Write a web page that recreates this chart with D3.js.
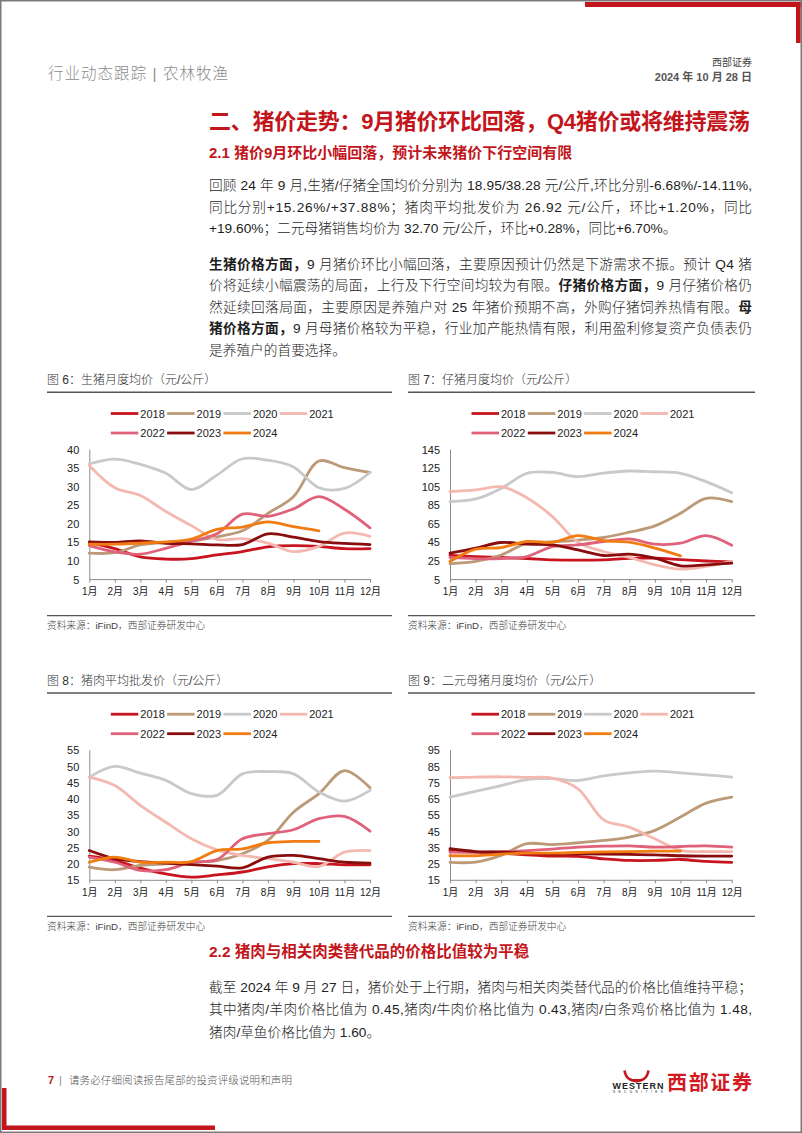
<!DOCTYPE html>
<html><head><meta charset="utf-8">
<script src="https://cdn.jsdelivr.net/npm/d3@7"></script>
<style>body{margin:0;background:#fff}svg{display:block}</style>
</head><body>
<svg id="page" width="802" height="1133"></svg>
<script>
// ---------- data ----------
const months = ["1月","2月","3月","4月","5月","6月","7月","8月","9月","10月","11月","12月"];
const years = ["2018","2019","2020","2021","2022","2023","2024"];
const yearColors = ["#c8141e","#bc9a78","#c9c9c9","#f3b8b0","#e0627a","#8a0d0d","#f07c12"];

const hogTicks = [5,10,15,20,25,30,35,40];
const pigletTicks = [5,25,45,65,85,105,125,145];
const porkTicks = [15,20,25,30,35,40,45,50,55];
const sowTicks = [15,25,35,45,55,65,75,85,95];

// 图6 生猪月度均价
const hogPrice = [
  [14.8,13.2,11.0,10.4,10.5,11.5,12.4,13.7,14.0,13.8,13.2,13.2],
  [12.0,12.1,14.2,14.9,15.3,16.4,18.0,22.7,27.2,36.8,35.0,33.7],
  [36.0,37.3,35.9,33.5,29.1,33.0,37.4,37.0,35.2,29.6,29.4,33.7],
  [35.6,29.6,27.5,23.2,19.4,15.7,15.9,14.7,12.4,13.8,17.4,16.5],
  [14.0,12.3,11.7,13.3,15.2,17.2,22.5,21.9,23.9,27.2,23.8,18.8],
  [15.0,14.9,15.3,14.6,14.5,14.2,14.3,17.2,16.3,15.1,14.6,14.3],
  [14.4,14.4,14.7,15.0,15.8,18.4,19.0,20.4,19.1,18.0]
];
// 图7 仔猪月度均价
const pigletPrice = [
  [30.5,29.3,28.3,27.2,25.8,25.5,25.8,27.3,27.5,26.0,24.5,23.5],
  [21.5,24.0,31.0,43.5,45.0,47.0,49.8,55.5,62.3,75.9,92.0,88.4],
  [88.4,91.3,102.7,118.9,119.9,115.3,119.2,121.4,120.6,118.9,110.0,98.0],
  [99.2,101.0,104.5,92.7,72.3,44.7,34.7,28.3,20.4,15.7,18.6,24.0],
  [28.3,27.0,27.2,29.3,40.0,41.9,45.5,48.3,42.6,43.7,51.9,41.5],
  [32.9,38.3,44.4,42.6,41.9,36.5,30.4,31.9,27.6,19.3,20.4,22.2],
  [24.0,37.2,39.0,45.5,44.7,51.9,46.5,44.7,38.3,30.0]
];
// 图8 猪肉平均批发价
const porkPrice = [
  [22.3,21.0,18.6,16.8,15.8,16.5,17.4,19.0,20.0,20.0,19.6,19.6],
  [18.9,18.1,19.4,19.9,20.4,20.9,23.0,27.1,35.8,41.5,48.6,43.3],
  [46.6,49.9,47.8,45.6,41.5,41.0,47.6,48.3,47.6,42.0,39.2,42.5],
  [46.6,44.0,37.9,32.7,27.6,24.2,22.5,21.5,20.4,19.1,23.5,24.0],
  [22.0,20.4,17.9,18.1,20.4,21.2,27.6,29.2,30.4,33.8,34.5,30.0],
  [24.0,21.5,20.6,20.1,19.7,19.2,18.7,22.0,22.5,21.5,20.4,20.1],
  [20.4,22.0,20.4,20.4,20.6,24.0,24.5,26.4,26.8,26.8]
];
// 图9 二元母猪月度均价
const sowPrice = [
  [33.0,32.0,31.4,30.4,29.6,29.4,27.9,26.9,26.9,27.5,26.3,25.7],
  [25.7,25.9,30.0,37.2,36.7,37.8,39.2,41.3,45.4,53.6,62.2,65.9],
  [65.9,69.4,73.0,76.7,77.2,76.1,79.0,80.8,81.9,80.8,79.6,78.2],
  [77.8,78.2,78.4,78.0,77.6,71.0,51.9,47.4,40.2,33.1,32.4,32.4],
  [32.0,32.0,32.4,33.0,33.9,35.1,35.7,35.9,35.1,35.5,35.9,35.1],
  [34.1,32.4,32.0,31.4,31.0,31.0,30.8,30.6,30.4,29.8,29.6,29.6],
  [29.8,29.8,30.8,31.4,31.4,31.8,32.2,32.4,32.6,32.6]
];

// ---------- page ----------
const FONT = '"Liberation Sans", Arial, "Noto Sans CJK SC", sans-serif';
const RED = "#c2151c";
const svg = d3.select("#page").attr("font-family", FONT);

svg.append("rect").attr("x",0.75).attr("y",0.75).attr("width",800.5).attr("height",1131.5)
  .attr("fill","none").attr("stroke","#7a7a7a").attr("stroke-width",1.5);
// top-right red corner
svg.append("rect").attr("x",585).attr("y",2).attr("width",215.5).attr("height",5).attr("fill",RED);
svg.append("rect").attr("x",796).attr("y",2).attr("width",4.5).attr("height",41).attr("fill",RED);
// bottom-left red corner
svg.append("rect").attr("x",2).attr("y",1088).attr("width",4.5).attr("height",42).attr("fill",RED);
svg.append("rect").attr("x",2).attr("y",1125.5).attr("width",213).attr("height",4.5).attr("fill",RED);

function textLine(x, y, parts, opt) {
  const t = svg.append("text").attr("x", x).attr("y", y)
    .attr("font-size", opt.size).attr("fill", opt.color || "#1e1e1e")
    .attr("dominant-baseline", "central");
  if (opt.weight) t.attr("font-weight", opt.weight);
  if (opt.anchor) t.attr("text-anchor", opt.anchor);
  parts.forEach(p => {
    const s = t.append("tspan").text(p[0]);
    if (p[1]) s.attr("font-weight", "bold");
  });
  if (opt.width) {
    const len = t.node().getComputedTextLength();
    const n = parts.map(p => p[0]).join("").length;
    t.style("letter-spacing", ((opt.width - len) / (n - 1)) + "px");
  }
  return t;
}

// header
textLine(48, 73, [["行业动态跟踪 | 农林牧渔"]], {size: 15.5, color: "#8c8c8c", weight: 300, width: 180});
textLine(752, 62, [["西部证券"]], {size: 10, color: "#444", anchor: "end"});
textLine(752, 77, [["2024 年 10 月 28 日"]], {size: 11, color: "#555", weight: "bold", anchor: "end"});

// titles
textLine(209, 120.7, [["二、猪价走势：9月猪价环比回落，Q4猪价或将维持震荡"]], {size: 22, color: RED, weight: "bold", width: 541});
textLine(209, 151.7, [["2.1 猪价9月环比小幅回落，预计未来猪价下行空间有限"]], {size: 15, color: RED, weight: "bold"});

const W = 543, TX = 209, TS = 13.7;
textLine(TX, 185, [["回顾 24 年 9 月,生猪/仔猪全国均价分别为 18.95/38.28 元/公斤,环比分别-6.68%/-14.11%,"]], {size: TS, width: W, weight: 300});
textLine(TX, 206.7, [["同比分别+15.26%/+37.88%；猪肉平均批发价为 26.92 元/公斤，环比+1.20%，同比"]], {size: TS, width: W, weight: 300});
textLine(TX, 228.4, [["+19.60%；二元母猪销售均价为 32.70 元/公斤，环比+0.28%，同比+6.70%。"]], {size: TS, weight: 300});

textLine(TX, 264, [["生猪价格方面，", true], ["9 月猪价环比小幅回落，主要原因预计仍然是下游需求不振。预计 Q4 猪"]], {size: TS, width: W, weight: 300});
textLine(TX, 285.4, [["价将延续小幅震荡的局面，上行及下行空间均较为有限。"], ["仔猪价格方面，", true], ["9 月仔猪价格仍"]], {size: TS, width: W, weight: 300});
textLine(TX, 306.8, [["然延续回落局面，主要原因是养殖户对 25 年猪价预期不高，外购仔猪饲养热情有限。"], ["母", true]], {size: TS, width: W, weight: 300});
textLine(TX, 328.2, [["猪价格方面，", true], ["9 月母猪价格较为平稳，行业加产能热情有限，利用盈利修复资产负债表仍"]], {size: TS, width: W, weight: 300});
textLine(TX, 349.6, [["是养殖户的首要选择。"]], {size: TS, weight: 300});

textLine(209, 950.5, [["2.2 猪肉与相关肉类替代品的价格比值较为平稳"]], {size: 15.5, color: RED, weight: "bold"});
textLine(TX, 986.5, [["截至 2024 年 9 月 27 日，猪价处于上行期，猪肉与相关肉类替代品的价格比值维持平稳；"]], {size: TS, width: W, weight: 300});
textLine(TX, 1009, [["其中猪肉/羊肉价格比值为 0.45,猪肉/牛肉价格比值为 0.43,猪肉/白条鸡价格比值为 1.48,"]], {size: TS, width: W, weight: 300});
textLine(TX, 1031.5, [["猪肉/草鱼价格比值为 1.60。"]], {size: TS, weight: 300});

// footer
textLine(48, 1079.5, [["7", true]], {size: 11, color: RED});
textLine(59, 1079.5, [["|"]], {size: 11, color: "#888"});
textLine(69, 1079.5, [["请务必仔细阅读报告尾部的投资评级说明和声明"]], {size: 10.5, color: "#555", weight: 300, width: 223});
// logo
svg.append("path").attr("d","M624.5,1070.5 C626,1079 630.5,1080.8 636.5,1080.8 C642.5,1080.8 647,1079 648.5,1070.5")
  .attr("fill","none").attr("stroke", RED).attr("stroke-width", 2.6);
svg.append("path").attr("d","M632,1079 L641,1079 L638.2,1082.5 L634.8,1082.5 Z").attr("fill", RED);
textLine(612.5, 1086, [["WESTERN"]], {size: 9, color: "#222", weight: "bold", width: 51});
textLine(613, 1091.5, [["SECURITIES"]], {size: 3.2, color: "#222", width: 50});
textLine(667, 1082.7, [["西部证券"]], {size: 20, color: "#d21a22", weight: "bold", width: 85});

// ---------- charts ----------
function drawChart(cfg) {
  const P = cfg.P;
  const g = svg.append("g");
  g.append("text").attr("x", cfg.left).attr("y", P).attr("dominant-baseline","central")
    .attr("font-size", 12).attr("fill", "#333").attr("font-weight", 300).text(cfg.title);
  g.append("line").attr("x1", cfg.left).attr("x2", cfg.right).attr("y1", P + 12).attr("y2", P + 12)
    .attr("stroke", "#555").attr("stroke-width", 1.5);
  g.append("line").attr("x1", cfg.left).attr("x2", cfg.right).attr("y1", P + 235.3).attr("y2", P + 235.3)
    .attr("stroke", "#555").attr("stroke-width", 1.2);
  g.append("text").attr("x", cfg.left).attr("y", P + 245.3).attr("dominant-baseline","central")
    .attr("font-size", 9.7).attr("fill", "#444").attr("font-weight", 300).text("资料来源：iFinD，西部证券研发中心");

  // legend
  years.forEach((yr, i) => {
    const row = i < 4 ? 0 : 1, col = i < 4 ? i : i - 4;
    const lx = cfg.axisX + 21.5 + col * 56.3, ly = P + (row ? 52.7 : 33.2);
    g.append("line").attr("x1", lx).attr("x2", lx + 27.5).attr("y1", ly).attr("y2", ly)
      .attr("stroke", yearColors[i]).attr("stroke-width", 2.8);
    g.append("text").attr("x", lx + 29.5).attr("y", ly).attr("dominant-baseline","central")
      .attr("font-size", 11).attr("fill", "#222").text(yr);
  });

  const x = d3.scalePoint().domain(months).range([cfg.axisX, cfg.plotRight]);
  const y = d3.scaleLinear().domain([cfg.ticks[0], cfg.ticks[cfg.ticks.length - 1]]).range([P + 198.8, P + 68.8]);

  const ya = g.append("g").attr("transform", `translate(${cfg.axisX},0)`)
    .call(d3.axisLeft(y).tickValues(cfg.ticks).tickSize(0).tickSizeOuter(0).tickPadding(10));
  ya.select(".domain").attr("stroke", "#8c8c8c");
  ya.selectAll("text").attr("dy", null).attr("dominant-baseline","central")
    .attr("font-size", 11).attr("fill", "#222").attr("font-family", FONT);

  const xa = g.append("g").attr("transform", `translate(0,${P + 198.8})`)
    .call(d3.axisBottom(x).tickSize(3.5).tickSizeOuter(0));
  xa.select(".domain").attr("stroke", "#8c8c8c");
  xa.selectAll("line").attr("stroke", "#8c8c8c");
  xa.selectAll("text").attr("y", 12.7).attr("dy", null).attr("dominant-baseline","central")
    .attr("font-size", 10).attr("fill", "#222").attr("font-family", FONT);

  const line = d3.line().x((d, i) => x(months[i])).y(d => y(d)).curve(d3.curveCatmullRom.alpha(0.5));
  cfg.data.forEach((s, k) => {
    g.append("path").attr("d", line(s)).attr("fill", "none")
      .attr("stroke", yearColors[k]).attr("stroke-width", 2.8)
      .attr("stroke-linejoin", "round").attr("stroke-linecap", "round");
  });
}

drawChart({P: 380.3, left: 47, right: 392, axisX: 89.3, plotRight: 370, title: "图 6：生猪月度均价（元/公斤）", ticks: hogTicks, data: hogPrice});
drawChart({P: 380.3, left: 408, right: 755, axisX: 450, plotRight: 731.7, title: "图 7：仔猪月度均价（元/公斤）", ticks: pigletTicks, data: pigletPrice});
drawChart({P: 681, left: 47, right: 392, axisX: 89.3, plotRight: 370, title: "图 8：猪肉平均批发价（元/公斤）", ticks: porkTicks, data: porkPrice});
drawChart({P: 681, left: 408, right: 755, axisX: 450, plotRight: 731.7, title: "图 9：二元母猪月度均价（元/公斤）", ticks: sowTicks, data: sowPrice});
</script>
</body></html>
